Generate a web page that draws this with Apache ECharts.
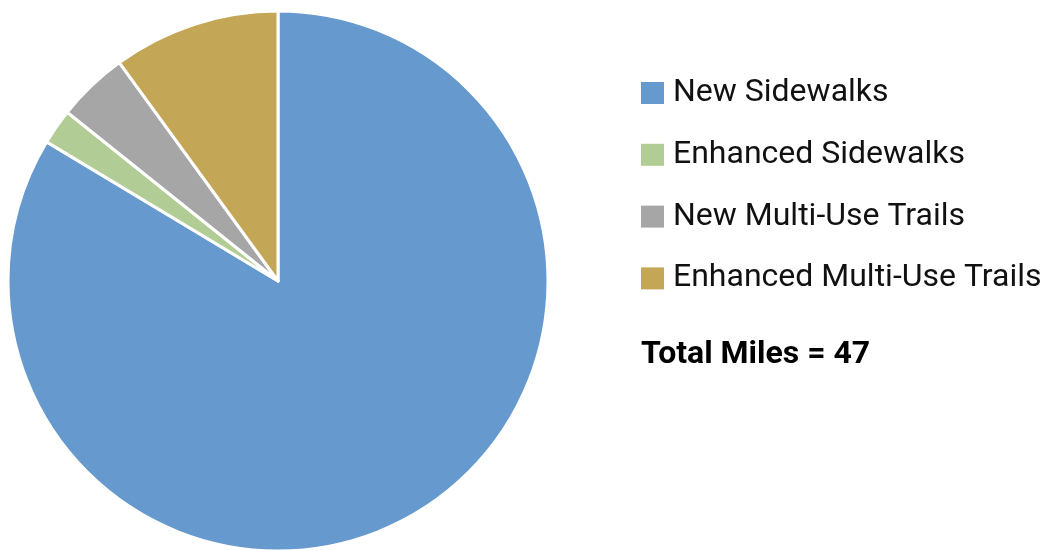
<!DOCTYPE html>
<html>
<head>
<meta charset="utf-8">
<script src="https://cdn.jsdelivr.net/npm/echarts@6/dist/echarts.min.js"></script>
<style>
  html, body { margin: 0; padding: 0; background: #fff; }
  #chart { width: 1047px; height: 550px; }
</style>
</head>
<body>
<div id="chart"></div>
<script>
// 数据
var categories = ['New Sidewalks', 'Enhanced Sidewalks', 'New Multi-Use Trails', 'Enhanced Multi-Use Trails'];
var miles = [39.3, 1.0, 2.0, 4.7];
var colors = ['#6699cd', '#b1cd95', '#a6a6a6', '#c3a757'];
var totalLabel = 'Total Miles = 47';

(function () {
  var myChart = echarts.init(document.getElementById('chart'));

  var pieData = [];
  for (var i = 0; i < categories.length; ++i) {
    pieData.push({ name: categories[i], value: miles[i] });
  }

  var option = {
    animation: false,
    color: colors,
    legend: {
      orient: 'vertical',
      left: 641,
      top: 77,
      padding: 0,
      icon: 'rect',
      itemWidth: 23,
      itemHeight: 22,
      itemGap: 29.8,
      selectedMode: false,
      itemStyle: { borderWidth: 0 },
      textStyle: {
        fontFamily: 'Roboto',
        fontSize: 32,
        color: '#111',
        lineHeight: 28,
        padding: [0, 0, 0, 4]
      },
      data: categories
    },
    graphic: [{
      type: 'text',
      left: 641,
      top: 339,
      style: {
        text: totalLabel,
        fontFamily: 'Roboto',
        fontSize: 32,
        fontWeight: 'bold',
        fill: '#000'
      }
    }],
    series: [{
      type: 'pie',
      center: [278, 281],
      radius: [0, 270],
      startAngle: 90,
      clockwise: true,
      label: { show: false },
      labelLine: { show: false },
      itemStyle: {
        borderColor: '#fff',
        borderWidth: 3
      },
      emphasis: { disabled: true },
      data: pieData
    }]
  };

  myChart.setOption(option);
  window.addEventListener('resize', function () {
    myChart.resize();
  });
})();
</script>
</body>
</html>
